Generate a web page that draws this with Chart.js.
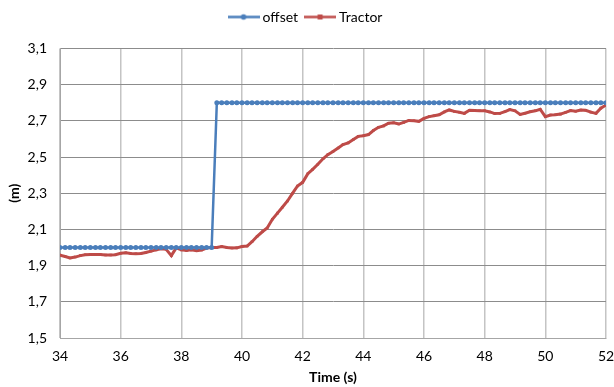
<!DOCTYPE html>
<html>
<head>
<meta charset="utf-8">
<script src="https://cdn.jsdelivr.net/npm/chart.js@4/dist/chart.umd.min.js"></script>
<style>
  html, body { margin: 0; padding: 0; background: #fff; }
  canvas { display: block; }
</style>
</head>
<body>
<canvas id="chart" width="614" height="387"></canvas>
<script>
// time stamps (s)
const times = [
  34, 34.17, 34.33, 34.5, 34.67, 34.83, 35, 35.17, 35.33, 35.5, 35.67, 35.83,
  36, 36.17, 36.33, 36.5, 36.67, 36.83, 37, 37.17, 37.33, 37.5, 37.67, 37.83,
  38, 38.17, 38.33, 38.5, 38.67, 38.83, 39, 39.17, 39.33, 39.5, 39.67, 39.83,
  40, 40.17, 40.33, 40.5, 40.67, 40.83, 41, 41.17, 41.33, 41.5, 41.67, 41.83,
  42, 42.17, 42.33, 42.5, 42.67, 42.83, 43, 43.17, 43.33, 43.5, 43.67, 43.83,
  44, 44.17, 44.33, 44.5, 44.67, 44.83, 45, 45.17, 45.33, 45.5, 45.67, 45.83,
  46, 46.17, 46.33, 46.5, 46.67, 46.83, 47, 47.17, 47.33, 47.5, 47.67, 47.83,
  48, 48.17, 48.33, 48.5, 48.67, 48.83, 49, 49.17, 49.33, 49.5, 49.67, 49.83,
  50, 50.17, 50.33, 50.5, 50.67, 50.83, 51, 51.17, 51.33, 51.5, 51.67, 51.83,
  52
];

const offsetVals = [
  2.0, 2.0, 2.0, 2.0, 2.0, 2.0, 2.0, 2.0, 2.0, 2.0, 2.0, 2.0,
  2.0, 2.0, 2.0, 2.0, 2.0, 2.0, 2.0, 2.0, 2.0, 2.0, 2.0, 2.0,
  2.0, 2.0, 2.0, 2.0, 2.0, 2.0, 2.0, 2.8, 2.8, 2.8, 2.8, 2.8,
  2.8, 2.8, 2.8, 2.8, 2.8, 2.8, 2.8, 2.8, 2.8, 2.8, 2.8, 2.8,
  2.8, 2.8, 2.8, 2.8, 2.8, 2.8, 2.8, 2.8, 2.8, 2.8, 2.8, 2.8,
  2.8, 2.8, 2.8, 2.8, 2.8, 2.8, 2.8, 2.8, 2.8, 2.8, 2.8, 2.8,
  2.8, 2.8, 2.8, 2.8, 2.8, 2.8, 2.8, 2.8, 2.8, 2.8, 2.8, 2.8,
  2.8, 2.8, 2.8, 2.8, 2.8, 2.8, 2.8, 2.8, 2.8, 2.8, 2.8, 2.8,
  2.8, 2.8, 2.8, 2.8, 2.8, 2.8, 2.8, 2.8, 2.8, 2.8, 2.8, 2.8,
  2.8
];

const tractorVals = [
  1.958, 1.950, 1.942, 1.947, 1.955, 1.960, 1.961, 1.962, 1.961, 1.959,
  1.958, 1.960, 1.968, 1.971, 1.967, 1.966, 1.967, 1.972, 1.980, 1.987,
  1.993, 1.990, 1.955, 1.998, 1.987, 1.984, 1.987, 1.982, 1.986, 1.997,
  2.000, 2.000, 2.005, 2.000, 1.997, 1.998, 2.005, 2.008, 2.032, 2.062,
  2.087, 2.108, 2.156, 2.190, 2.222, 2.257, 2.300, 2.340, 2.360, 2.408,
  2.432, 2.460, 2.490, 2.513, 2.530, 2.550, 2.569, 2.578, 2.597, 2.614,
  2.617, 2.624, 2.646, 2.664, 2.672, 2.687, 2.689, 2.682, 2.691, 2.702,
  2.700, 2.697, 2.713, 2.723, 2.728, 2.733, 2.749, 2.760, 2.752, 2.747,
  2.741, 2.758, 2.757, 2.755, 2.755, 2.749, 2.740, 2.741, 2.751, 2.762,
  2.755, 2.735, 2.742, 2.750, 2.755, 2.764, 2.723, 2.732, 2.733, 2.737,
  2.747, 2.757, 2.753, 2.760, 2.758, 2.748, 2.741, 2.770, 2.787
];

const xTicks = [34, 36, 38, 40, 42, 44, 46, 48, 50, 52];
const yTicks = [1.5, 1.7, 1.9, 2.1, 2.3, 2.5, 2.7, 2.9, 3.1];

const BLUE = '#4a7ebb';
const RED = '#be4b48';
const FONT = 'Lato, "Liberation Sans", sans-serif';

// legend icon: short line with a marker in the middle
function legendIcon(color, square) {
    const c = document.createElement('canvas');
    c.width = 32;
    c.height = 9;
    const g = c.getContext('2d');
    g.strokeStyle = color;
    g.lineWidth = 2.5;
    g.beginPath();
    g.moveTo(0, 4.5);
    g.lineTo(32, 4.5);
    g.stroke();
    g.fillStyle = color;
    if (square) {
        g.fillRect(13.5, 2, 5, 5);
    } else {
        g.beginPath();
        g.arc(16, 4.5, 2.8, 0, Math.PI * 2);
        g.fill();
    }
    return c;
}

const icons = [legendIcon(BLUE, false), legendIcon(RED, true)];

const pts = vals => times.map((t, i) => ({ x: t, y: vals[i] }));

new Chart(document.getElementById('chart'), {
    type: 'line',
    data: {
        datasets: [{
            label: 'offset',
            data: pts(offsetVals),
            borderColor: BLUE,
            backgroundColor: BLUE,
            borderWidth: 2.5,
            pointStyle: 'circle',
            pointRadius: 2.5,
            pointBorderWidth: 0,
            tension: 0
        }, {
            label: 'Tractor',
            data: pts(tractorVals),
            borderColor: RED,
            backgroundColor: RED,
            borderWidth: 3,
            pointStyle: 'rect',
            pointRadius: 1.8,
            pointBorderWidth: 0,
            tension: 0
        }]
    },
    options: {
        responsive: false,
        animation: false,
        layout: { padding: { left: 0, right: 0, top: 0, bottom: 0 } },
        plugins: {
            tooltip: { enabled: false },
            legend: {
                position: 'top',
                labels: {
                    color: '#000',
                    font: { family: FONT, size: 14 },
                    usePointStyle: true,
                    pointStyleWidth: 24,
                    padding: 10,
                    generateLabels(chart) {
                        const items = Chart.defaults.plugins.legend.labels.generateLabels(chart);
                        items.forEach((it, i) => { it.pointStyle = icons[i]; });
                        return items;
                    }
                }
            },
            // empty spacer between legend and plot
            title: {
                display: true,
                text: ' ',
                weight: 500,
                padding: 0,
                font: { size: 12 }
            }
        },
        scales: {
            x: {
                type: 'linear',
                min: 34,
                max: 52,
                afterBuildTicks: s => { s.ticks = xTicks.map(v => ({ value: v })); },
                afterFit: s => {
                    s.height = 49;
                    s.paddingLeft = 0;
                    s.paddingRight = 8;
                },
                grid: { color: '#c4c4c4', lineWidth: 1.5, drawTicks: false },
                border: { color: '#a6a6a6', width: 1 },
                ticks: { color: '#000', padding: 10, font: { family: FONT, size: 14 } },
                title: {
                    display: true,
                    text: 'Time (s)',
                    color: '#000',
                    font: { family: FONT, size: 14, weight: 'bold' },
                    padding: { top: 0, bottom: 1 }
                }
            },
            y: {
                min: 1.5,
                max: 3.1,
                afterBuildTicks: s => { s.ticks = yTicks.map(v => ({ value: v })); },
                afterFit: s => { s.width = 60; },
                grid: { color: '#8c8c8c', lineWidth: 1, drawTicks: false },
                border: { color: '#a6a6a6', width: 1 },
                ticks: {
                    color: '#000',
                    padding: 13,
                    font: { family: FONT, size: 14 },
                    callback: v => v.toFixed(1).replace('.', ',')
                },
                title: {
                    display: true,
                    text: '(m)',
                    color: '#000',
                    font: { family: FONT, size: 14, weight: 'bold' },
                    padding: { top: 6, bottom: 0 }
                }
            }
        }
    }
});
</script>
</body>
</html>
